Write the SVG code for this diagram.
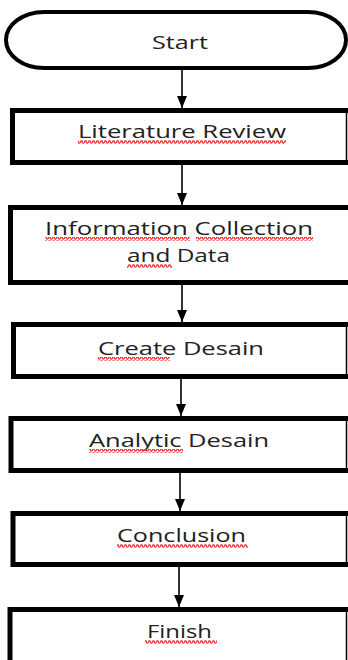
<svg xmlns="http://www.w3.org/2000/svg" width="348" height="660" viewBox="0 0 348 660">
<style>
.frame{fill:none;stroke:#000;stroke-width:5;stroke-linejoin:miter}
.edge{fill:none;stroke:#000;stroke-width:1.5}
.lbl{font-family:"Open Sans","Noto Sans",sans-serif;font-size:18px;fill:#222;text-anchor:middle}
.wave{fill:none;stroke:#e83a3a;stroke-width:1.3}
.conn{stroke:#000;stroke-width:1.6;fill:none}
</style>
<defs>
<marker id="ah" viewBox="0 0 12 10" refX="12" refY="5" markerWidth="12" markerHeight="10" markerUnits="userSpaceOnUse" orient="auto">
<path d="M0,0 L12,5 L0,10 Z" fill="#000"/>
</marker>
<pattern id="wv" width="4" height="4" patternUnits="userSpaceOnUse">
<path d="M0,3 L1,1 L2,1 L3,3 L4,3" class="wave"/>
</pattern>
</defs>
<rect width="348" height="660" fill="#fff"/>
<g id="connectors">
<line class="conn" x1="182" y1="70" x2="182" y2="108" marker-end="url(#ah)"/>
<line class="conn" x1="182" y1="165" x2="182" y2="205" marker-end="url(#ah)"/>
<line class="conn" x1="182" y1="285" x2="182" y2="322" marker-end="url(#ah)"/>
<line class="conn" x1="181" y1="379" x2="181" y2="416" marker-end="url(#ah)"/>
<line class="conn" x1="180" y1="473" x2="180" y2="511" marker-end="url(#ah)"/>
<line class="conn" x1="179" y1="567" x2="179" y2="607" marker-end="url(#ah)"/>
</g>
<g id="start">
<rect x="6" y="12" width="340" height="56" rx="38" ry="28" fill="#fff" stroke="#000" stroke-width="4"/>
<text class="lbl" x="180" y="49" textLength="56" lengthAdjust="spacingAndGlyphs">Start</text>
</g>
<g id="literature-review">
<rect x="12.5" y="110.5" width="334" height="52" fill="#fff"/>
<path class="frame" d="M348,110.5 H12.5 V162.5 H348"/>
<line class="edge" x1="346.5" y1="110" x2="346.5" y2="163"/>
<text class="lbl" x="182" y="138" textLength="208" lengthAdjust="spacingAndGlyphs">Literature Review</text>
<rect x="78" y="140" width="208" height="4" fill="url(#wv)"/>
</g>
<g id="information-collection">
<rect x="10.5" y="207.5" width="340" height="75" fill="#fff"/>
<path class="frame" d="M350,207.5 H10.5 V282.5 H350"/>
<text class="lbl" x="179" y="235" textLength="268" lengthAdjust="spacingAndGlyphs">Information Collection</text>
<text class="lbl" x="178.5" y="262" textLength="103" lengthAdjust="spacingAndGlyphs">and Data</text>
<rect x="45" y="237" width="145" height="4" fill="url(#wv)"/>
<rect x="196" y="237" width="117" height="4" fill="url(#wv)"/>
<rect x="127" y="264" width="45" height="4" fill="url(#wv)"/>
</g>
<g id="create-desain">
<rect x="13.5" y="324.5" width="333" height="52" fill="#fff"/>
<path class="frame" d="M348,324.5 H13.5 V376.5 H348"/>
<line class="edge" x1="346.5" y1="324" x2="346.5" y2="377"/>
<text class="lbl" x="181" y="355" textLength="166" lengthAdjust="spacingAndGlyphs">Create Desain</text>
<rect x="98" y="357" width="72" height="4" fill="url(#wv)"/>
</g>
<g id="analytic-desain">
<rect x="11" y="418.5" width="336" height="52" fill="#fff"/>
<path class="frame" d="M348,418.5 H11 V470.5 H348"/>
<line class="edge" x1="346.5" y1="418" x2="346.5" y2="471"/>
<text class="lbl" x="179" y="447" textLength="180" lengthAdjust="spacingAndGlyphs">Analytic Desain</text>
<rect x="89" y="449" width="94" height="4" fill="url(#wv)"/>
</g>
<g id="conclusion">
<rect x="13" y="513.5" width="334" height="51" fill="#fff"/>
<path class="frame" d="M348,513.5 H13 V564.5 H348"/>
<line class="edge" x1="346.5" y1="513" x2="346.5" y2="565"/>
<text class="lbl" x="181.5" y="542" textLength="129" lengthAdjust="spacingAndGlyphs">Conclusion</text>
<rect x="117" y="544" width="131" height="4" fill="url(#wv)"/>
</g>
<g id="finish">
<rect x="10" y="609.5" width="337" height="52" fill="#fff"/>
<path class="frame" d="M348,609.5 H10 V662"/>
<line class="edge" x1="346.5" y1="609" x2="346.5" y2="660"/>
<text class="lbl" x="179.5" y="638" textLength="65" lengthAdjust="spacingAndGlyphs">Finish</text>
<rect x="145" y="640" width="72" height="4" fill="url(#wv)"/>
</g>
</svg>
